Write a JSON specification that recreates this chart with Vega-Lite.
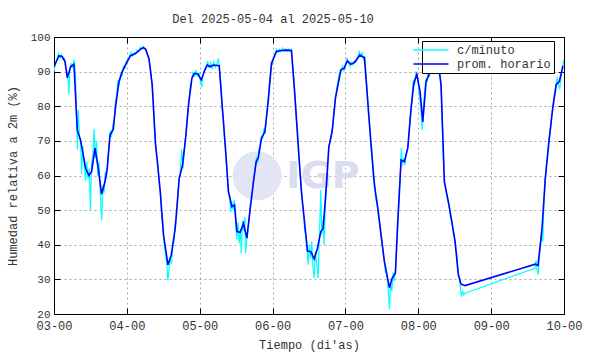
{
  "$schema": "https://vega.github.io/schema/vega-lite/v6.json",
  "width": 510,
  "height": 277,
  "autosize": {"type": "none"},
  "padding": {"left": 54, "top": 37, "right": 26, "bottom": 40},
  "background": "white",
  "config": {
    "font": "Liberation Mono",
    "view": {"stroke": null},
    "axis": {
      "domainColor": "#000",
      "domainWidth": 1,
      "tickColor": "#000",
      "tickWidth": 1,
      "tickSize": -6,
      "labelFont": "Liberation Mono",
      "labelFontSize": 12,
      "labelColor": "#333",
      "titleFont": "Liberation Mono",
      "titleFontSize": 12,
      "titleFontWeight": "normal",
      "titleColor": "#333",
      "gridColor": "#a8a8a8",
      "gridDash": [2, 3],
      "gridWidth": 1
    }
  },
  "title": {
    "text": "Del 2025-05-04 al 2025-05-10",
    "font": "Liberation Mono",
    "fontSize": 12,
    "fontWeight": "normal",
    "color": "#333",
    "dx": -36,
    "offset": 5
  },
  "datasets": {
    "logo": [{"t": 66.9, "v": 59.9}],
    "logotxt": [{"t": 88.6, "v": 59.6, "txt": "IGP"}],
    "minuto": [
      {"t":0,"v":90.0},{"t":0.5,"v":92.5},{"t":1.0,"v":93.8},{"t":1.5,"v":95.2},{"t":2.0,"v":94.0},{"t":2.5,"v":95.0},{"t":3.0,"v":93.5},{"t":3.5,"v":93.8},{"t":4.0,"v":90.5},{"t":4.5,"v":89.0},{"t":4.9,"v":83.5},{"t":5.2,"v":90.0},{"t":5.6,"v":92.5},{"t":6.1,"v":91.0},{"t":6.6,"v":93.5},{"t":7.0,"v":90.0},{"t":7.4,"v":78.0},{"t":7.7,"v":67.5},{"t":8.0,"v":79.0},{"t":8.4,"v":71.0},{"t":8.8,"v":69.0},{"t":9.1,"v":60.5},{"t":9.5,"v":68.5},{"t":10.0,"v":63.0},{"t":10.4,"v":58.5},{"t":10.8,"v":64.0},{"t":11.2,"v":59.0},{"t":11.6,"v":62.0},{"t":12.0,"v":50.0},{"t":12.4,"v":63.5},{"t":12.8,"v":66.0},{"t":13.2,"v":73.5},{"t":13.6,"v":65.0},{"t":14.0,"v":70.0},{"t":14.4,"v":60.0},{"t":14.8,"v":64.0},{"t":15.2,"v":56.0},{"t":15.7,"v":47.0},{"t":16.1,"v":57.0},{"t":16.5,"v":55.0},{"t":16.9,"v":61.0},{"t":17.3,"v":59.0},{"t":17.7,"v":65.0},{"t":18.1,"v":68.0},{"t":18.5,"v":73.0},{"t":18.9,"v":71.0},{"t":19.4,"v":74.5},{"t":19.8,"v":76.0},{"t":20.2,"v":81.0},{"t":20.6,"v":83.0},{"t":21.0,"v":87.5},{"t":21.4,"v":86.0},{"t":21.9,"v":89.5},{"t":22.4,"v":89.0},{"t":22.9,"v":91.5},{"t":23.4,"v":91.0},{"t":23.9,"v":93.0},{"t":24.4,"v":93.5},{"t":24.9,"v":94.5},{"t":25.4,"v":95.5},{"t":25.9,"v":94.5},{"t":26.4,"v":95.5},{"t":26.9,"v":95.0},{"t":27.4,"v":96.2},{"t":27.9,"v":95.8},{"t":28.4,"v":97.0},{"t":28.9,"v":96.5},{"t":29.4,"v":97.3},{"t":29.9,"v":96.8},{"t":30.4,"v":96.0},{"t":30.9,"v":94.5},{"t":31.4,"v":93.0},{"t":31.9,"v":90.0},{"t":32.4,"v":85.0},{"t":32.9,"v":77.0},{"t":33.4,"v":69.5},{"t":33.8,"v":66.0},{"t":34.3,"v":62.0},{"t":34.7,"v":57.5},{"t":35.1,"v":55.0},{"t":35.5,"v":48.0},{"t":35.9,"v":45.0},{"t":36.3,"v":40.0},{"t":36.7,"v":37.5},{"t":37.1,"v":35.0},{"t":37.5,"v":29.8},{"t":37.9,"v":33.0},{"t":38.3,"v":36.5},{"t":38.7,"v":34.5},{"t":39.1,"v":39.0},{"t":39.5,"v":41.0},{"t":39.9,"v":46.0},{"t":40.3,"v":47.5},{"t":40.7,"v":53.0},{"t":41.1,"v":58.5},{"t":41.5,"v":60.0},{"t":42.1,"v":67.5},{"t":42.5,"v":62.0},{"t":42.9,"v":67.0},{"t":43.3,"v":70.5},{"t":43.7,"v":75.0},{"t":44.1,"v":78.5},{"t":44.5,"v":82.0},{"t":44.9,"v":86.0},{"t":45.3,"v":87.5},{"t":45.8,"v":90.0},{"t":46.3,"v":88.5},{"t":46.8,"v":90.5},{"t":47.3,"v":88.8},{"t":47.8,"v":89.5},{"t":48.3,"v":87.0},{"t":48.7,"v":85.5},{"t":49.1,"v":89.0},{"t":49.6,"v":90.8},{"t":50.1,"v":91.5},{"t":50.6,"v":93.0},{"t":51.1,"v":91.0},{"t":51.6,"v":92.5},{"t":52.1,"v":91.0},{"t":52.6,"v":92.8},{"t":53.1,"v":91.2},{"t":53.6,"v":92.0},{"t":54.2,"v":93.8},{"t":54.6,"v":90.0},{"t":55.0,"v":86.0},{"t":55.4,"v":79.0},{"t":55.8,"v":76.5},{"t":56.2,"v":70.0},{"t":56.6,"v":66.0},{"t":57.0,"v":61.0},{"t":57.4,"v":55.0},{"t":57.8,"v":54.5},{"t":58.2,"v":49.5},{"t":58.6,"v":52.5},{"t":59.0,"v":50.0},{"t":59.4,"v":53.0},{"t":59.8,"v":47.0},{"t":60.2,"v":41.5},{"t":60.6,"v":46.5},{"t":61.0,"v":40.4},{"t":61.4,"v":44.5},{"t":61.7,"v":37.5},{"t":62.1,"v":47.0},{"t":62.5,"v":44.0},{"t":62.9,"v":48.0},{"t":63.1,"v":37.5},{"t":63.5,"v":41.0},{"t":63.9,"v":45.0},{"t":64.3,"v":47.5},{"t":64.7,"v":51.5},{"t":65.1,"v":53.0},{"t":65.5,"v":57.5},{"t":65.9,"v":60.0},{"t":66.3,"v":62.5},{"t":66.7,"v":65.5},{"t":67.1,"v":63.5},{"t":67.5,"v":67.5},{"t":67.9,"v":69.0},{"t":68.3,"v":71.5},{"t":68.7,"v":70.5},{"t":69.1,"v":73.5},{"t":69.5,"v":72.0},{"t":69.9,"v":76.0},{"t":70.3,"v":80.0},{"t":70.7,"v":83.5},{"t":71.1,"v":88.0},{"t":71.5,"v":91.0},{"t":71.9,"v":92.0},{"t":72.3,"v":94.0},{"t":72.8,"v":95.0},{"t":73.3,"v":96.5},{"t":73.8,"v":95.5},{"t":74.3,"v":96.5},{"t":74.8,"v":95.8},{"t":75.3,"v":96.8},{"t":75.8,"v":96.0},{"t":76.3,"v":96.6},{"t":76.8,"v":95.9},{"t":77.3,"v":96.5},{"t":77.8,"v":95.8},{"t":78.2,"v":96.5},{"t":78.6,"v":92.0},{"t":79.0,"v":88.0},{"t":79.4,"v":83.0},{"t":79.8,"v":77.0},{"t":80.2,"v":73.0},{"t":80.6,"v":67.0},{"t":81.0,"v":61.0},{"t":81.4,"v":57.0},{"t":81.8,"v":52.0},{"t":82.2,"v":49.0},{"t":82.6,"v":44.0},{"t":83.0,"v":42.5},{"t":83.4,"v":38.0},{"t":83.7,"v":34.2},{"t":84.1,"v":40.0},{"t":84.5,"v":36.0},{"t":84.9,"v":41.0},{"t":85.3,"v":33.5},{"t":85.7,"v":30.3},{"t":86.1,"v":38.0},{"t":86.5,"v":35.0},{"t":87.0,"v":30.3},{"t":87.4,"v":42.0},{"t":87.9,"v":55.8},{"t":88.2,"v":43.0},{"t":88.6,"v":47.0},{"t":89.0,"v":39.9},{"t":89.4,"v":52.0},{"t":89.8,"v":57.0},{"t":90.2,"v":63.0},{"t":90.6,"v":68.5},{"t":91.0,"v":70.0},{"t":91.4,"v":72.0},{"t":91.8,"v":74.0},{"t":92.2,"v":78.0},{"t":92.6,"v":82.0},{"t":93.0,"v":84.5},{"t":93.5,"v":87.0},{"t":94.0,"v":89.5},{"t":94.5,"v":90.0},{"t":95.0,"v":91.5},{"t":95.5,"v":90.0},{"t":96.0,"v":92.0},{"t":96.5,"v":93.8},{"t":97.0,"v":92.5},{"t":97.5,"v":91.5},{"t":98.0,"v":92.8},{"t":98.5,"v":92.0},{"t":99.0,"v":93.2},{"t":99.5,"v":93.0},{"t":100.0,"v":94.0},{"t":100.5,"v":95.8},{"t":101.0,"v":94.5},{"t":101.5,"v":95.5},{"t":102.0,"v":93.5},{"t":102.4,"v":94.5},{"t":102.8,"v":89.0},{"t":103.2,"v":84.0},{"t":103.6,"v":77.0},{"t":104.0,"v":74.0},{"t":104.4,"v":68.0},{"t":104.8,"v":65.0},{"t":105.2,"v":59.0},{"t":105.6,"v":58.0},{"t":106.0,"v":53.0},{"t":106.4,"v":52.5},{"t":106.8,"v":49.0},{"t":107.2,"v":47.0},{"t":107.6,"v":43.0},{"t":108.0,"v":41.0},{"t":108.4,"v":37.5},{"t":108.8,"v":35.5},{"t":109.2,"v":32.0},{"t":109.6,"v":31.5},{"t":110.0,"v":28.0},{"t":110.5,"v":21.4},{"t":110.9,"v":29.0},{"t":111.3,"v":26.5},{"t":111.7,"v":32.0},{"t":112.1,"v":29.5},{"t":112.5,"v":33.0},{"t":112.9,"v":40.0},{"t":113.3,"v":47.0},{"t":113.7,"v":54.0},{"t":114.1,"v":61.0},{"t":114.4,"v":67.9},{"t":114.8,"v":63.0},{"t":115.2,"v":65.0},{"t":115.6,"v":63.0},{"t":116.0,"v":66.5},{"t":116.5,"v":68.0},{"t":117.0,"v":73.0},{"t":117.5,"v":78.0},{"t":117.9,"v":82.0},{"t":118.4,"v":87.5},{"t":118.8,"v":86.0},{"t":119.2,"v":90.0},{"t":119.6,"v":88.5},{"t":120.0,"v":86.5},{"t":120.4,"v":83.0},{"t":120.8,"v":80.0},{"t":121.3,"v":73.1},{"t":121.7,"v":80.0},{"t":122.1,"v":84.5},{"t":122.5,"v":88.0},{"t":122.9,"v":87.0},{"t":123.3,"v":89.5},{"t":123.7,"v":88.5},{"t":124.1,"v":91.0},{"t":124.6,"v":90.5},{"t":125.1,"v":92.5},{"t":125.6,"v":93.5},{"t":126.1,"v":92.0},{"t":126.6,"v":93.0},{"t":127.0,"v":91.0},{"t":127.4,"v":87.0},{"t":127.8,"v":78.0},{"t":128.2,"v":66.0},{"t":128.6,"v":58.0},{"t":129.0,"v":56.5},{"t":129.4,"v":54.0},{"t":129.9,"v":52.0},{"t":130.3,"v":50.5},{"t":130.7,"v":47.5},{"t":131.1,"v":47.0},{"t":131.5,"v":43.5},{"t":131.9,"v":42.5},{"t":132.3,"v":39.0},{"t":132.7,"v":37.0},{"t":133.1,"v":32.5},{"t":133.5,"v":30.0},{"t":133.9,"v":27.5},{"t":134.2,"v":25.0},{"t":134.6,"v":26.5},{"t":135.0,"v":25.5},{"t":135.4,"v":26.0},{"t":158.4,"v":33.2},{"t":158.8,"v":35.5},{"t":159.1,"v":33.0},{"t":159.5,"v":31.3},{"t":159.9,"v":37.0},{"t":160.3,"v":40.0},{"t":160.7,"v":43.5},{"t":161.0,"v":40.9},{"t":161.4,"v":52.0},{"t":161.8,"v":58.5},{"t":162.2,"v":63.0},{"t":162.6,"v":66.5},{"t":163.0,"v":70.5},{"t":163.4,"v":72.0},{"t":163.8,"v":76.0},{"t":164.2,"v":79.0},{"t":164.6,"v":82.0},{"t":165.0,"v":84.5},{"t":165.4,"v":86.5},{"t":165.8,"v":88.5},{"t":166.2,"v":86.0},{"t":166.6,"v":85.2},{"t":167.0,"v":88.5},{"t":167.4,"v":90.5},{"t":167.8,"v":92.9},{"t":168.0,"v":92.5}
    ],
    "horario": [
      {"t":0,"v":91.4},{"t":1.65,"v":94.6},{"t":2.73,"v":94.3},{"t":3.62,"v":92.9},{"t":4.38,"v":88.2},{"t":5.47,"v":91.4},{"t":6.58,"v":92.1},{"t":7.67,"v":73.1},{"t":8.76,"v":70.2},{"t":10.4,"v":62.1},{"t":11.52,"v":60.0},{"t":12.38,"v":61.1},{"t":13.5,"v":67.9},{"t":14.58,"v":62.1},{"t":15.67,"v":54.6},{"t":16.79,"v":58.2},{"t":17.55,"v":62.1},{"t":18.44,"v":71.7},{"t":19.52,"v":73.3},{"t":20.28,"v":79.9},{"t":21.4,"v":87.1},{"t":22.49,"v":90.0},{"t":23.8,"v":92.4},{"t":25.22,"v":94.6},{"t":26.34,"v":95.0},{"t":27.42,"v":95.6},{"t":28.51,"v":96.5},{"t":29.4,"v":96.9},{"t":30.16,"v":96.5},{"t":31.28,"v":93.8},{"t":32.36,"v":86.1},{"t":33.45,"v":68.8},{"t":34.0,"v":64.5},{"t":35.0,"v":55.3},{"t":36.08,"v":42.8},{"t":37.53,"v":34.2},{"t":38.62,"v":37.0},{"t":39.93,"v":44.7},{"t":41.25,"v":59.2},{"t":42.34,"v":63.0},{"t":43.46,"v":71.7},{"t":44.31,"v":80.4},{"t":45.43,"v":88.1},{"t":46.29,"v":89.5},{"t":47.41,"v":89.3},{"t":48.49,"v":87.6},{"t":49.58,"v":90.2},{"t":50.47,"v":91.9},{"t":51.46,"v":91.4},{"t":52.54,"v":91.9},{"t":54.42,"v":91.7},{"t":55.31,"v":81.3},{"t":56.4,"v":68.8},{"t":57.48,"v":55.3},{"t":58.6,"v":51.0},{"t":59.46,"v":51.5},{"t":60.25,"v":43.8},{"t":61.33,"v":43.6},{"t":62.42,"v":46.2},{"t":63.54,"v":41.9},{"t":64.63,"v":50.5},{"t":65.71,"v":58.2},{"t":66.6,"v":64.0},{"t":67.26,"v":65.0},{"t":68.35,"v":70.7},{"t":69.47,"v":72.7},{"t":70.55,"v":81.3},{"t":71.64,"v":92.4},{"t":73.28,"v":95.8},{"t":74.93,"v":96.1},{"t":76.58,"v":96.2},{"t":78.22,"v":96.1},{"t":79.34,"v":83.2},{"t":80.43,"v":68.8},{"t":81.51,"v":55.3},{"t":82.63,"v":45.7},{"t":83.49,"v":38.2},{"t":84.61,"v":38.0},{"t":85.7,"v":35.9},{"t":86.78,"v":39.0},{"t":87.9,"v":43.8},{"t":88.66,"v":44.7},{"t":89.74,"v":57.3},{"t":90.53,"v":68.3},{"t":91.62,"v":72.7},{"t":92.71,"v":82.3},{"t":94.49,"v":90.5},{"t":95.57,"v":91.0},{"t":96.66,"v":93.1},{"t":97.78,"v":92.1},{"t":99.09,"v":92.7},{"t":100.74,"v":94.8},{"t":102.26,"v":94.0},{"t":103.37,"v":81.3},{"t":104.46,"v":68.8},{"t":105.55,"v":57.3},{"t":106.67,"v":50.5},{"t":107.75,"v":42.8},{"t":108.84,"v":35.1},{"t":110.49,"v":27.6},{"t":111.37,"v":30.3},{"t":112.46,"v":31.8},{"t":113.25,"v":46.7},{"t":114.34,"v":64.5},{"t":115.42,"v":64.0},{"t":116.54,"v":67.9},{"t":117.63,"v":79.4},{"t":118.52,"v":86.6},{"t":119.51,"v":89.2},{"t":120.59,"v":84.2},{"t":121.48,"v":75.5},{"t":122.57,"v":87.1},{"t":123.65,"v":89.5},{"t":124.54,"v":91.4},{"t":125.53,"v":92.6},{"t":126.62,"v":92.1},{"t":127.51,"v":86.1},{"t":128.59,"v":58.2},{"t":129.91,"v":52.4},{"t":131.03,"v":46.7},{"t":132.12,"v":40.9},{"t":133.2,"v":31.3},{"t":134.09,"v":28.6},{"t":135.41,"v":28.2},{"t":158.55,"v":34.4},{"t":159.44,"v":34.0},{"t":160.76,"v":44.7},{"t":161.84,"v":59.2},{"t":163.16,"v":70.7},{"t":164.28,"v":79.4},{"t":165.47,"v":86.3},{"t":166.45,"v":87.1},{"t":167.67,"v":91.7}
    ]
  },
  "layer": [
    {
      "data": {"name": "logo"},
      "mark": {"type": "point", "shape": "circle", "filled": true, "size": 2400, "color": "#e3e5f6", "opacity": 1},
      "encoding": {
        "x": {"field": "t", "type": "quantitative", "axis": null, "scale": {"domain": [0, 168], "nice": false, "zero": false}},
        "y": {"field": "v", "type": "quantitative", "axis": null, "scale": {"domain": [20, 100], "nice": false, "zero": false}}
      }
    },
    {
      "data": {"name": "logotxt"},
      "mark": {"type": "text", "font": "DejaVu Sans", "fontWeight": "bold", "fontSize": 38, "color": "#dcdcef", "baseline": "middle", "align": "center"},
      "encoding": {
        "x": {"field": "t", "type": "quantitative", "axis": null},
        "y": {"field": "v", "type": "quantitative", "axis": null},
        "text": {"field": "txt"}
      }
    },
    {
      "data": {"name": "minuto"},
      "mark": {"type": "line", "strokeWidth": 1.2, "clip": true},
      "encoding": {
        "x": {
          "field": "t", "type": "quantitative",
          "scale": {"domain": [0, 168], "nice": false, "zero": false},
          "axis": {
            "orient": "bottom",
            "values": [0, 24, 48, 72, 96, 120, 144, 168],
            "labelExpr": "(datum.value/24 + 3 < 10 ? '0' : '') + (datum.value/24 + 3) + '-00'",
            "title": "Tiempo (di'as)",
            "grid": true,
            "labelPadding": 12,
            "labelFlush": false,
            "titleY": 30,
            "titleBaseline": "middle"
          }
        },
        "y": {
          "field": "v", "type": "quantitative",
          "scale": {"domain": [20, 100], "nice": false, "zero": false},
          "axis": {
            "orient": "left",
            "values": [20, 30, 40, 50, 60, 70, 80, 90, 100],
            "title": "Humedad relativa a 2m (%)",
            "grid": true,
            "labelFontSize": 11,
            "labelPadding": 10,
            "labelFlush": false,
            "titleX": -42,
            "titleBaseline": "middle"
          }
        },
        "color": {
          "datum": "c/minuto", "type": "nominal",
          "scale": {"domain": ["c/minuto", "prom. horario"], "range": ["#00ffff", "#0000ff"]},
          "legend": {
            "orient": "none", "legendX": 368, "legendY": 4, "title": null,
            "symbolType": "M-3.5,0H3.5", "symbolSize": 100, "symbolStrokeWidth": 1.5,
            "labelFont": "Liberation Mono", "labelFontSize": 12, "labelColor": "#333",
            "strokeColor": "#000", "fillColor": "white", "padding": 3, "labelOffset": 20, "rowPadding": 2
          }
        }
      }
    },
    {
      "data": {"name": "horario"},
      "mark": {"type": "line", "strokeWidth": 1.6, "clip": true},
      "encoding": {
        "x": {
          "field": "t", "type": "quantitative",
          "axis": {"orient": "top", "values": [0, 24, 48, 72, 96, 120, 144, 168], "labels": false, "title": null, "grid": false}
        },
        "y": {
          "field": "v", "type": "quantitative",
          "axis": {"orient": "right", "values": [20, 30, 40, 50, 60, 70, 80, 90, 100], "labels": false, "title": null, "grid": false}
        },
        "color": {"datum": "prom. horario", "type": "nominal"}
      }
    }
  ],
  "resolve": {"axis": {"x": "independent", "y": "independent"}}
}
